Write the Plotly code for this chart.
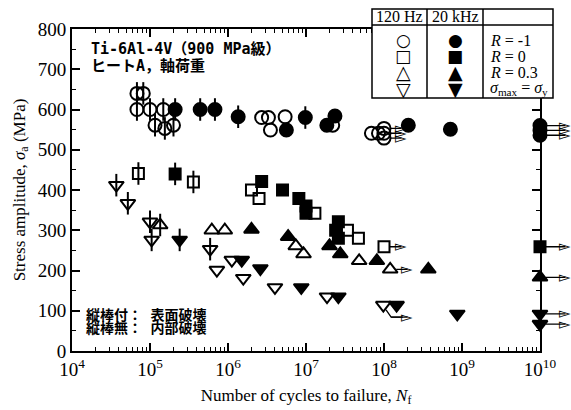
import math
import plotly.graph_objects as go

# ---------------- data ----------------
# 120 Hz, R = -1 (open circles)
co_N = [6.8e4, 8.2e4, 6.8e4, 1.0e5, 1.48e5, 1.16e5, 1.55e5, 2.0e5, 2.7e6, 3.3e6, 3.5e6, 5.4e6, 2.2e7, 6.9e7, 8.5e7, 1e8, 1e8, 1e8]
co_S = [640, 640, 600, 600, 600, 561, 553, 561, 580, 580, 549, 582, 561, 541, 541, 553, 541, 529]
co_bar = [1, 1, 1, 1, 1, 1, 1, 1, 0, 0, 0, 0, 0, 0, 0, 0, 0, 0]
co_run = [0, 0, 0, 0, 0, 0, 0, 0, 0, 0, 0, 0, 0, 0, 0, 1, 1, 1]

# 20 kHz, R = -1 (filled circles)
cf_N = [2.1e5, 4.4e5, 6.8e5, 1.35e6, 5.6e6, 9.8e6, 1.85e7, 2.35e7, 2.05e8, 7.1e8, 1e10, 1e10, 1e10]
cf_S = [600, 600, 600, 582, 549, 580, 561, 584, 561, 551, 560, 548, 536]
cf_bar = [1, 1, 1, 1, 0, 1, 0, 0, 0, 0, 0, 0, 0]
cf_run = [0, 0, 0, 0, 0, 0, 0, 0, 0, 0, 1, 1, 1]

# 120 Hz, R = 0 (open squares)
so_N = [7.1e4, 3.6e5, 2.0e6, 2.5e6, 1.3e7, 3.4e7, 4.7e7, 1e8]
so_S = [441, 420, 400, 379, 342, 300, 280, 259]
so_bar = [1, 1, 0, 0, 0, 0, 0, 0]
so_run = [0, 0, 0, 0, 0, 0, 0, 1]

# 20 kHz, R = 0 (filled squares)
sf_N = [2.1e5, 2.7e6, 5.0e6, 8.1e6, 1.0e7, 1.0e7, 2.6e7, 2.4e7, 2.6e7, 1e10]
sf_S = [440, 421, 400, 379, 360, 342, 321, 300, 280, 259]
sf_bar = [1, 0, 0, 0, 0, 0, 0, 0, 0, 0]
sf_run = [0, 0, 0, 0, 0, 0, 0, 0, 0, 1]

# 120 Hz, R = 0.3 (open up-triangles)
uo_N = [1.35e5, 6.2e5, 9.1e5, 7.4e6, 9.3e6, 4.8e7, 1.2e8]
uo_S = [313, 300, 300, 261, 241, 224, 203]
uo_bar = [1, 0, 0, 0, 0, 0, 0]
uo_run = [0, 0, 0, 0, 0, 0, 1]

# 20 kHz, R = 0.3 (filled up-triangles)
uf_N = [2.0e6, 5.9e6, 2.0e7, 2.75e7, 8.1e7, 3.7e8, 1e10]
uf_S = [302, 284, 261, 241, 224, 203, 183]
uf_bar = [0, 0, 0, 0, 0, 0, 0]
uf_run = [0, 0, 0, 0, 0, 0, 1]

# 120 Hz, sigma_max = sigma_y (open down-triangles)
do_N = [3.7e4, 5.2e4, 1.05e5, 1.0e5, 5.9e5, 7.2e5, 1.12e6, 1.57e6, 4.0e6, 1.86e7, 9.8e7]
do_S = [412, 367, 276, 321, 253, 201, 226, 181, 158, 135, 114]
do_bar = [1, 1, 1, 1, 1, 0, 0, 0, 0, 0, 0]
do_run = [0, 0, 0, 0, 0, 0, 0, 0, 0, 0, 2]   # 2 = run-out with bent arrow

# 20 kHz, sigma_max = sigma_y (filled down-triangles)
df_N = [2.4e5, 1.5e6, 2.6e6, 8.7e6, 2.6e7, 1.45e8, 8.7e8, 1e10, 1e10]
df_S = [276, 226, 205, 158, 135, 114, 92, 92, 67]
df_bar = [1, 0, 0, 0, 0, 0, 0, 0, 0]
df_run = [0, 0, 0, 0, 0, 0, 0, 1, 1]

x_ticks = [1e4, 1e5, 1e6, 1e7, 1e8, 1e9, 1e10]
x_ticktext = ["10<sup>4</sup>", "10<sup>5</sup>", "10<sup>6</sup>", "10<sup>7</sup>",
              "10<sup>8</sup>", "10<sup>9</sup>", "10<sup>10</sup>"]
y_ticks = [0, 100, 200, 300, 400, 500, 600, 700, 800]

# ---------------- figure ----------------
W, H = 571, 410
L, R, T, B = 72, 31, 29, 59
PW, PH = W - L - R, H - T - B


def pxx(x):
    return (x - L) / PW


def pxy(y):
    return (H - B - y) / PH


SERIF = "Liberation Serif"
BAR = 28
fig = go.Figure()

series = [
    (co_N, co_S, co_bar, co_run, "circle-open", 13),
    (cf_N, cf_S, cf_bar, cf_run, "circle", 13),
    (so_N, so_S, so_bar, so_run, "square-open", 11),
    (sf_N, sf_S, sf_bar, sf_run, "square", 11),
    (uo_N, uo_S, uo_bar, uo_run, "triangle-up-open", 13),
    (uf_N, uf_S, uf_bar, uf_run, "triangle-up", 13),
    (do_N, do_S, do_bar, do_run, "triangle-down-open", 13),
    (df_N, df_S, df_bar, df_run, "triangle-down", 13),
]

annotations = []


def add_arrow(lg, s, length_px, start_px=6):
    # shaft
    annotations.append(dict(
        x=lg, y=s, xref="x", yref="y", ax=length_px - 4, ay=0,
        text="", showarrow=True, arrowhead=0, arrowwidth=1.3,
        arrowcolor="black", standoff=start_px))
    # open arrow head
    annotations.append(dict(
        x=lg, y=s, xref="x", yref="y", xshift=length_px - 6, yshift=0.5,
        text="▻", showarrow=False, xanchor="center", yanchor="middle",
        font=dict(family="DejaVu Sans", size=15, color="black")))


for N, S, bar, run, sym, size in series:
    fig.add_trace(go.Scatter(
        x=N, y=S, mode="markers", cliponaxis=False, showlegend=False,
        marker=dict(symbol=sym, size=size, color="black",
                    line=dict(color="black", width=2)),
        error_y=dict(type="data", array=[BAR * b for b in bar], symmetric=True,
                     width=0, thickness=2, color="black"),
    ))
    for n, s, r in zip(N, S, run):
        lg = math.log10(n)
        if r == 1:
            add_arrow(lg, s, 31 if lg >= 9.9 else 23)
        elif r == 2:
            fig.add_trace(go.Scatter(
                x=[10 ** (lg + 0.035), 10 ** (lg + 0.1), 10 ** (lg + 0.25)],
                y=[s - 12, s - 30, s - 30], mode="lines", showlegend=False,
                line=dict(color="black", width=1.3)))
            add_arrow(lg + 0.1, s - 30, 22, start_px=0)

# ---------------- texts ----------------
JP = "DejaVu Sans Mono, Noto Sans CJK JP, monospace"
for txt, x, y, sz in [
    ("<b>Ti-6Al-4V（900 MPa級）</b>", 89, 49, 15),
    ("<b>ヒートA，軸荷重</b>", 89, 66, 15),
    ("<b>縦棒付： 表面破壊</b>", 84, 315, 14),
    ("<b>縦棒無： 内部破壊</b>", 84, 328, 14),
]:
    annotations.append(dict(text=txt, x=pxx(x), y=pxy(y), xref="paper", yref="paper",
                            xanchor="left", yanchor="middle", showarrow=False,
                            font=dict(family=JP, size=sz, color="black")))

# legend table
bx0, bx1, by0, by1 = 372, 553, 9, 98
shapes = [
    dict(type="rect", xref="paper", yref="paper", x0=pxx(bx0), x1=pxx(bx1),
         y0=pxy(by1), y1=pxy(by0), fillcolor="white",
         line=dict(color="black", width=1.5), layer="above"),
    dict(type="line", xref="paper", yref="paper", x0=pxx(bx0), x1=pxx(bx1),
         y0=pxy(25), y1=pxy(25), line=dict(color="black", width=1.5), layer="above"),
    dict(type="line", xref="paper", yref="paper", x0=pxx(427), x1=pxx(427),
         y0=pxy(by1), y1=pxy(by0), line=dict(color="black", width=1.5), layer="above"),
    dict(type="line", xref="paper", yref="paper", x0=pxx(483), x1=pxx(483),
         y0=pxy(by1), y1=pxy(by0), line=dict(color="black", width=1.5), layer="above"),
]

for txt, x in [("120 Hz", 399.5), ("20 kHz", 455)]:
    annotations.append(dict(text=txt, x=pxx(x), y=pxy(17), xref="paper", yref="paper",
                            xanchor="center", yanchor="middle", showarrow=False,
                            font=dict(family=SERIF, size=16, color="black")))

row_y = [40, 56.5, 72.5, 88.5]
open_glyphs = ["○", "□", "△", "▽"]
fill_glyphs = ["●", "■", "▲", "▼"]
glyph_sizes = [17, 17, 19, 19]
labels = ["<i>R</i> = -1", "<i>R</i> = 0", "<i>R</i> = 0.3",
          "<i>σ</i><sub>max</sub> = <i>σ</i><sub>y</sub>"]
for yy, go_, gf, gs, lab in zip(row_y, open_glyphs, fill_glyphs, glyph_sizes, labels):
    annotations.append(dict(text=go_, x=pxx(403), y=pxy(yy), xref="paper", yref="paper",
                            xanchor="center", yanchor="middle", showarrow=False,
                            font=dict(family="DejaVu Sans", size=gs, color="black")))
    annotations.append(dict(text=gf, x=pxx(455), y=pxy(yy), xref="paper", yref="paper",
                            xanchor="center", yanchor="middle", showarrow=False,
                            font=dict(family="DejaVu Sans", size=gs, color="black")))
    annotations.append(dict(text=lab, x=pxx(488), y=pxy(yy), xref="paper", yref="paper",
                            xanchor="left", yanchor="middle", showarrow=False,
                            font=dict(family=SERIF, size=16, color="black")))

axis_common = dict(
    showline=True, linecolor="black", linewidth=2, mirror="allticks",
    ticks="inside", ticklen=8, tickwidth=1.5, tickcolor="black",
    showgrid=False, zeroline=False,
    tickfont=dict(family=SERIF, size=19, color="black"),
)

fig.update_layout(
    width=W, height=H, margin=dict(l=L, r=R, t=T, b=B, autoexpand=False),
    paper_bgcolor="white", plot_bgcolor="white",
    xaxis=dict(type="log", range=[4, 10], tickvals=x_ticks, ticktext=x_ticktext,
               minor=dict(ticks="inside", ticklen=4, tickwidth=1.2, tickcolor="black",
                          dtick="D1", showgrid=False),
               title=dict(text="Number of cycles to failure, <i>N</i><sub>f</sub>",
                          font=dict(family=SERIF, size=17, color="black"), standoff=10),
               automargin=False, **axis_common),
    yaxis=dict(range=[0, 800], tickvals=y_ticks,
               minor=dict(ticks="inside", ticklen=4, tickwidth=1.2, tickcolor="black",
                          dtick=50, showgrid=False),
               title=dict(text="Stress amplitude, <i>σ</i><sub>a</sub> (MPa)",
                          font=dict(family=SERIF, size=17, color="black"), standoff=8),
               automargin=False, **axis_common),
    shapes=shapes, annotations=annotations,
)

fig.write_html("out.html")
